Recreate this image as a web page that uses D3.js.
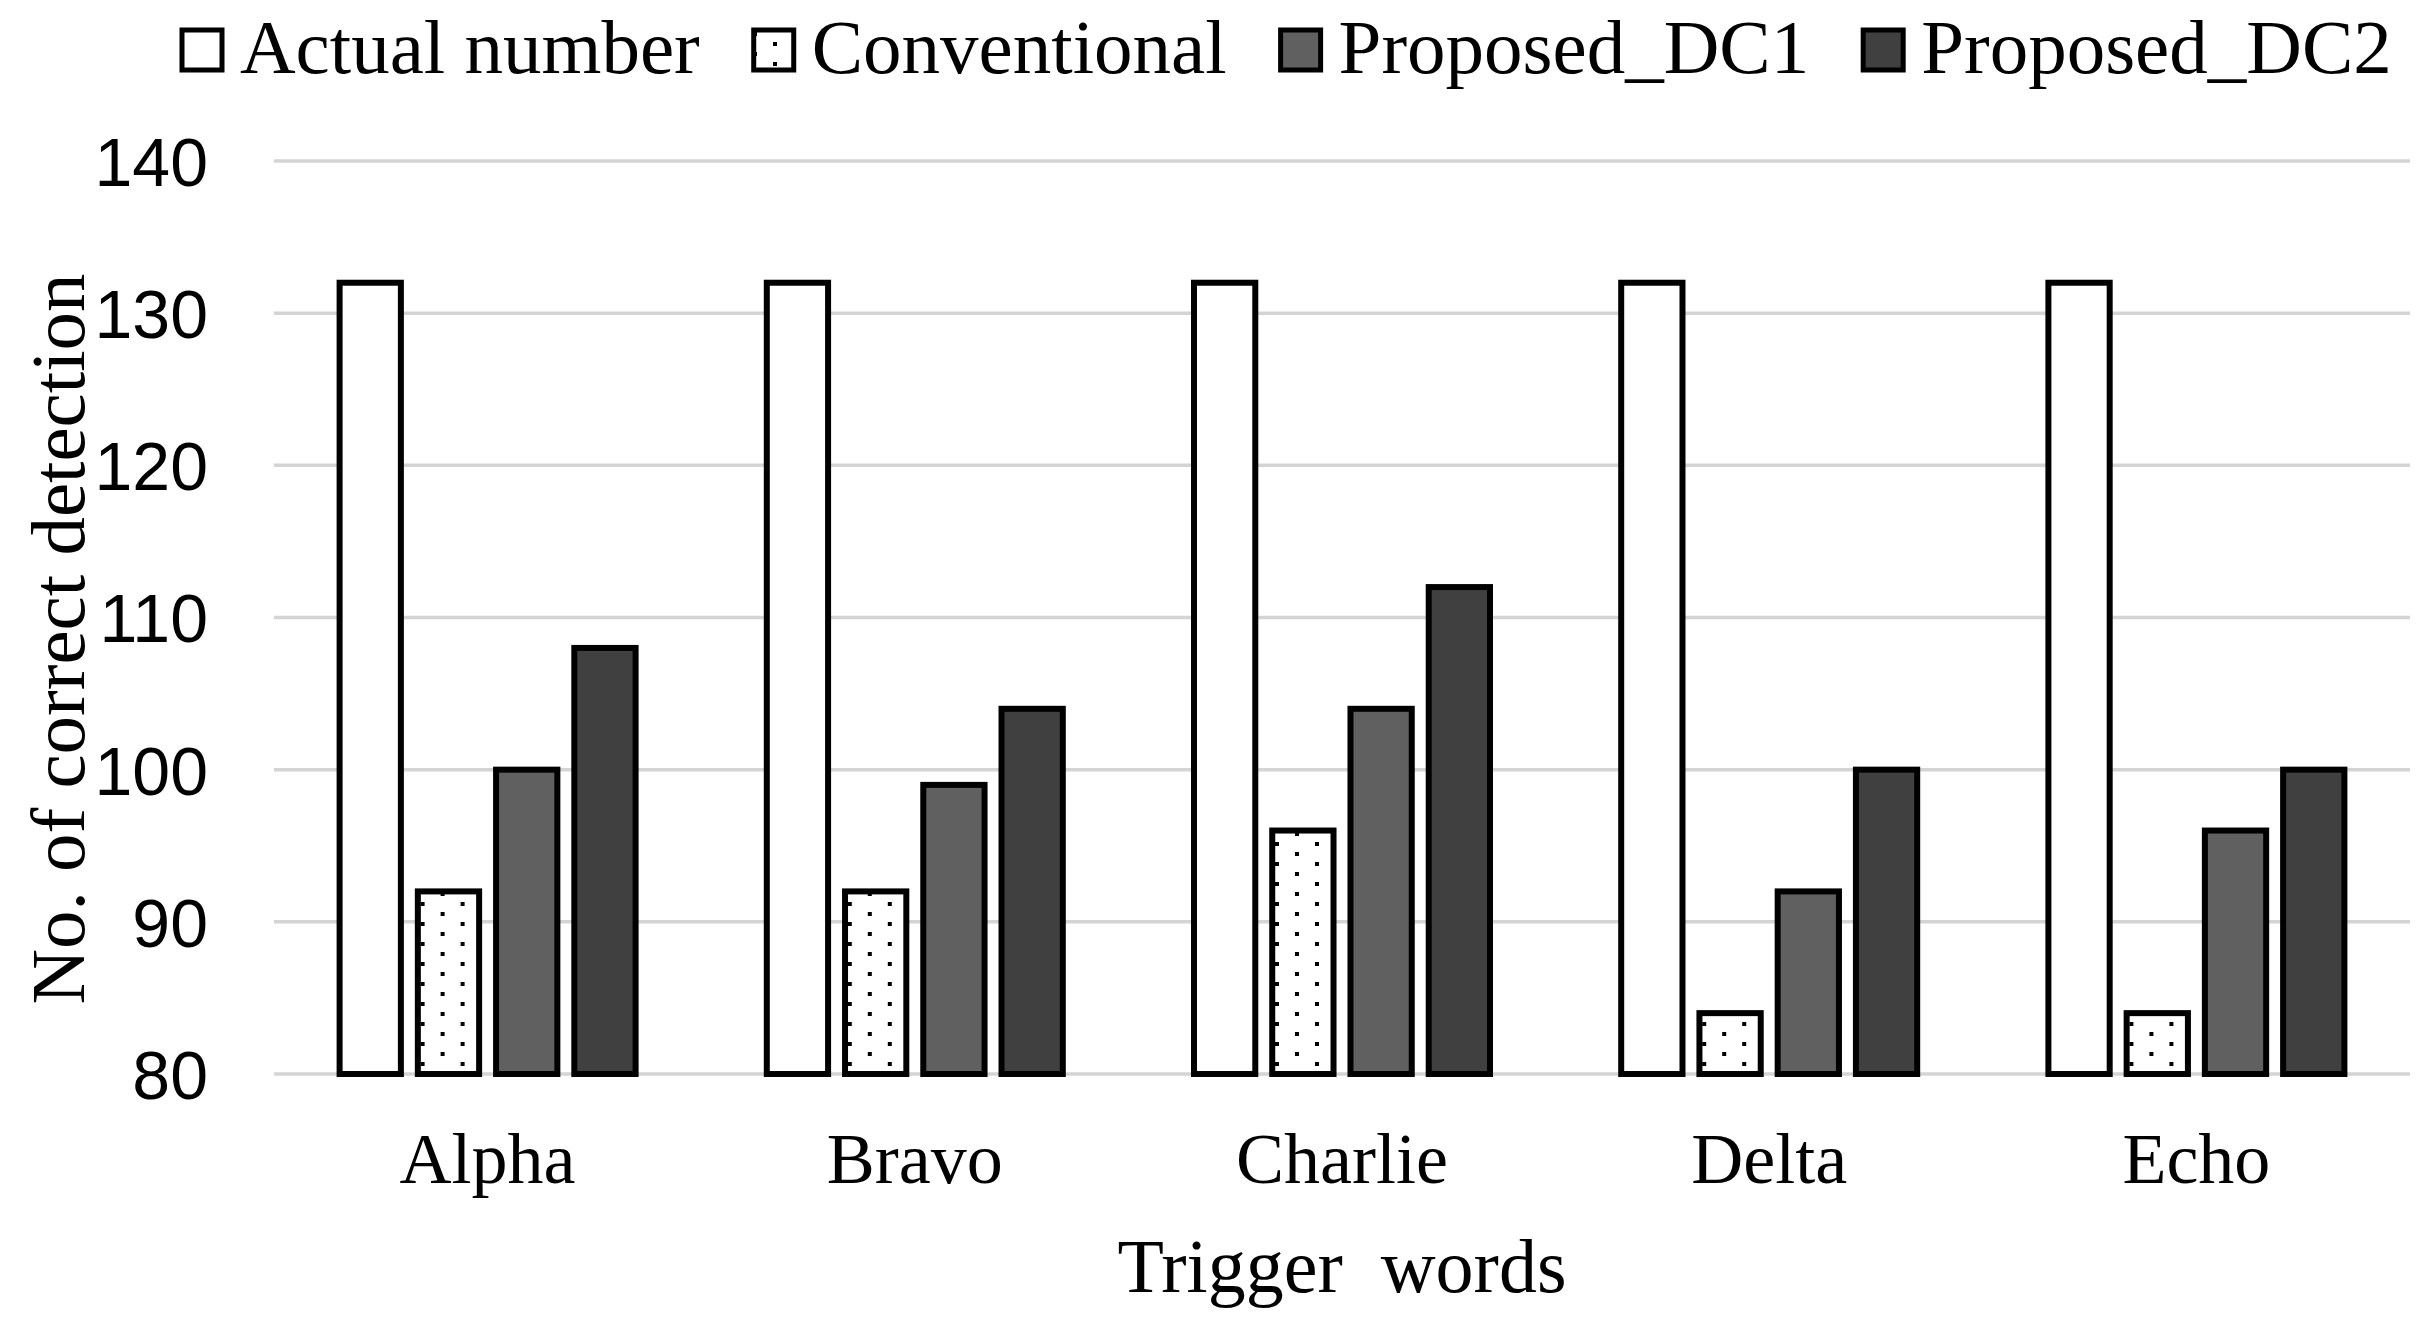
<!DOCTYPE html>
<html>
<head>
<meta charset="utf-8">
<script src="https://cdn.jsdelivr.net/npm/d3@7"></script>
<style>
  html, body { margin: 0; padding: 0; background: #fff; }
  svg { display: block; }
</style>
</head>
<body>
<svg id="chart" width="2430" height="1321"></svg>
<script>
const categories = ["Alpha", "Bravo", "Charlie", "Delta", "Echo"];
const seriesNames = ["Actual number", "Conventional", "Proposed_DC1", "Proposed_DC2"];
const actualNumber = [132, 132, 132, 132, 132];
const conventional = [92, 92, 96, 84, 84];
const proposedDC1 = [100, 99, 104, 92, 96];
const proposedDC2 = [108, 104, 112, 100, 100];
const yTicks = [80, 90, 100, 110, 120, 130, 140];
const yLabel = "No. of correct detection";
const xLabel = "Trigger  words";

const seriesValues = [actualNumber, conventional, proposedDC1, proposedDC2];
const fills = ["#ffffff", "url(#dots)", "#606060", "#404040"];

const svg = d3.select("#chart");

const defs = svg.append("defs");
const pat = defs.append("pattern")
  .attr("id", "dots").attr("patternUnits", "userSpaceOnUse")
  .attr("width", 40).attr("height", 20).attr("x", 13).attr("y", 2);
pat.append("rect").attr("width", 40).attr("height", 20).attr("fill", "#fff");
pat.append("rect").attr("x", 0).attr("y", 0).attr("width", 4).attr("height", 4).attr("fill", "#000");
pat.append("rect").attr("x", 20).attr("y", 10).attr("width", 4).attr("height", 4).attr("fill", "#000");

const x0 = d3.scaleBand().domain(categories).range([274, 2410]).padding(0);
const x1 = d3.scaleBand().domain(seriesNames).range([-151, 151]).paddingInner(0.14).paddingOuter(0);
const y = d3.scaleLinear().domain([80, 140]).range([1074, 161]);

// gridlines
svg.append("g").selectAll("line").data(yTicks).join("line")
  .attr("x1", 274).attr("x2", 2410)
  .attr("y1", d => y(d)).attr("y2", d => y(d))
  .attr("stroke", "#d4d4d4").attr("stroke-width", 3.5);

// y axis labels
const yAxis = d3.axisLeft(y).tickValues(yTicks).tickSize(0).tickPadding(0);
const yg = svg.append("g").attr("transform", "translate(208,0)").call(yAxis);
yg.select(".domain").remove();
yg.selectAll("text")
  .attr("font-family", "'Liberation Sans', Arial, sans-serif")
  .attr("font-size", 68).attr("fill", "#000").attr("dy", "0.36em");

// bars
const sw = 6;
const groups = svg.append("g").selectAll("g").data(categories).join("g")
  .attr("transform", d => `translate(${x0(d) + x0.bandwidth() / 2},0)`);
groups.selectAll("rect").data((c, ci) => seriesNames.map((s, si) => ({ s, si, v: seriesValues[si][ci] })))
  .join("rect")
  .attr("x", d => x1(d.s) + sw / 2)
  .attr("width", x1.bandwidth() - sw)
  .attr("y", d => y(d.v))
  .attr("height", d => y(80) - y(d.v))
  .attr("fill", d => fills[d.si])
  .attr("stroke", "#000").attr("stroke-width", sw);

// x axis labels
const xAxis = d3.axisBottom(x0).tickSize(0).tickPadding(0);
const xg = svg.append("g").attr("transform", "translate(0,1183)").call(xAxis);
xg.select(".domain").remove();
xg.selectAll("text")
  .attr("font-family", "'Liberation Serif', 'Times New Roman', serif")
  .attr("font-size", 72).attr("fill", "#000").attr("dy", 0);

// axis titles
svg.append("text")
  .attr("x", 1342).attr("y", 1292)
  .attr("text-anchor", "middle")
  .attr("font-family", "'Liberation Serif', 'Times New Roman', serif")
  .attr("font-size", 76).attr("fill", "#000")
  .style("white-space", "pre")
  .text(xLabel);

svg.append("text")
  .attr("transform", "translate(84,639) rotate(-90)")
  .attr("text-anchor", "middle")
  .attr("font-family", "'Liberation Serif', 'Times New Roman', serif")
  .attr("font-size", 77).attr("fill", "#000")
  .text(yLabel);

// legend
const legend = svg.append("g");
let lx = 180;
seriesNames.forEach((s, i) => {
  legend.append("rect")
    .attr("x", lx + 2).attr("y", 30).attr("width", 40).attr("height", 40)
    .attr("fill", fills[i]).attr("stroke", "#000").attr("stroke-width", 5);
  const t = legend.append("text")
    .attr("x", lx + 60).attr("y", 73)
    .attr("font-family", "'Liberation Serif', 'Times New Roman', serif")
    .attr("font-size", 77).attr("fill", "#000")
    .text(s);
  const w = t.node().getComputedTextLength();
  lx = lx + 60 + w + 52;
});
</script>
</body>
</html>
